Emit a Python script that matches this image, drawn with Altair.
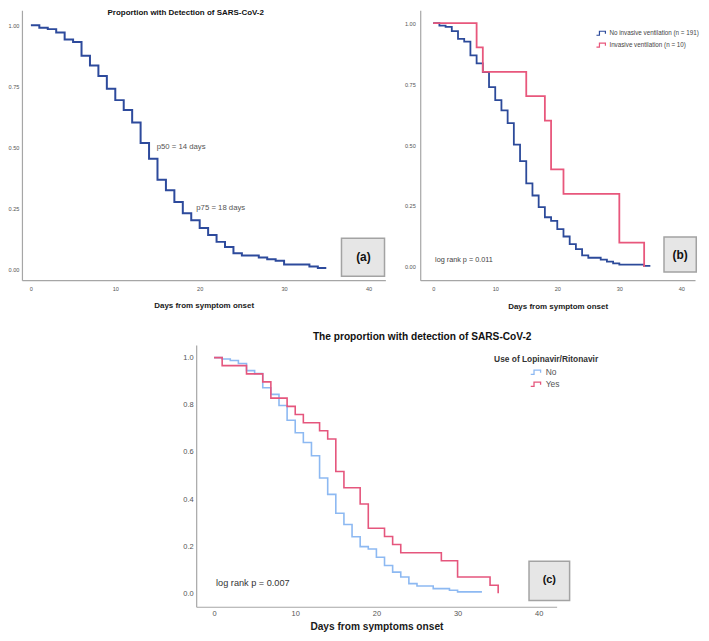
import altair as alt
import pandas as pd

NARROW = "Liberation Sans, Arial, sans-serif"
REG = "Liberation Sans, Arial, sans-serif"

# ---------------- data ----------------
# Panel (a): overall proportion with detection
a_days = [0, 1, 2, 3, 4, 5, 6, 7, 8, 9, 10, 11, 12, 13, 14, 15, 16, 17, 18, 19, 20,
          21, 22, 23, 24, 25, 27, 28, 29, 30, 33, 34, 35]
a_surv = [1.0, 0.990, 0.984, 0.970, 0.941, 0.931, 0.875, 0.835, 0.792, 0.740, 0.693,
          0.653, 0.601, 0.517, 0.453, 0.367, 0.324, 0.275, 0.229, 0.201, 0.169, 0.140,
          0.112, 0.091, 0.065, 0.056, 0.048, 0.041, 0.035, 0.019, 0.011, 0.005, 0.005]
a_title = "Proportion with Detection of SARS-CoV-2"
a_notes = ["p50  = 14 days", "p75  = 18 days"]

# Panel (b): by invasive ventilation
b_groups = ["No invasive ventilation (n  = 191)", "Invasive ventilation (n  = 10)"]
b_no_days = [0, 1, 2, 3, 4, 5, 6, 7, 8, 9, 10, 11, 12, 13, 14, 15, 16, 17, 18, 19, 20,
             21, 22, 23, 24, 25, 27, 28, 29, 30, 34, 35]
b_no_surv = [1.0, 0.989, 0.984, 0.967, 0.935, 0.924, 0.867, 0.835, 0.799, 0.737, 0.684,
             0.642, 0.590, 0.502, 0.434, 0.343, 0.293, 0.245, 0.204, 0.189, 0.155, 0.125,
             0.094, 0.073, 0.048, 0.038, 0.030, 0.022, 0.015, 0.010, 0.005, 0.005]
b_yes_days = [0, 7, 8, 15, 18, 19, 21, 30, 34]
b_yes_surv = [1.0, 0.9, 0.8, 0.7, 0.6, 0.4, 0.3, 0.1, 0.0]
b_note = "log rank p = 0.011"

# Panel (c): by Lopinavir/Ritonavir use
c_groups = ["No", "Yes"]
c_no_days = [0, 1, 2, 3, 4, 5, 6, 7, 8, 9, 10, 11, 12, 13, 14, 15, 16, 17, 18, 19, 20,
             21, 22, 23, 24, 25, 27, 29, 30, 33]
c_no_surv = [1.0, 0.994, 0.988, 0.975, 0.945, 0.932, 0.872, 0.844, 0.797, 0.734, 0.681,
             0.640, 0.584, 0.489, 0.420, 0.340, 0.292, 0.240, 0.198, 0.188, 0.153, 0.118,
             0.090, 0.069, 0.041, 0.031, 0.020, 0.013, 0.006, 0.006]
c_yes_days = [0, 1, 4, 6, 7, 9, 10, 11, 13, 14, 15, 16, 18, 19, 21, 22, 23, 28, 30, 34, 35]
c_yes_surv = [1.0, 0.966, 0.931, 0.897, 0.828, 0.793, 0.759, 0.724, 0.690, 0.655, 0.517,
              0.448, 0.379, 0.276, 0.241, 0.207, 0.172, 0.138, 0.069, 0.034, 0.0]
c_title = "The proportion with detection of SARS-CoV-2"
c_legend_title = "Use of Lopinavir/Ritonavir"
c_note = "log rank p = 0.007"

x_ticks = [0, 10, 20, 30, 40]
y_ticks_ab = [0, 0.25, 0.5, 0.75, 1.0]
y_ticks_c = [0, 0.2, 0.4, 0.6, 0.8, 1.0]
panel_labels = ["(a)", "(b)", "(c)"]

STEP = "M-1,0.4H-0.4V-0.4H0.8V0.1"
AXC = "#A6A6A6"


def axes(font, lsize, tsize, title, yvals, yfmt, lpad_x, tpad, lpad_y):
    ax = alt.Axis(values=x_ticks, format="d", title=title, titleFont=font,
                  titleFontSize=tsize, titleFontWeight="bold", titleColor="#1a1a1a",
                  titlePadding=tpad, labelFont=font, labelFontSize=lsize,
                  labelColor="#555555", labelPadding=lpad_x, ticks=False, grid=False,
                  domainColor=AXC, domainWidth=1.2)
    ay = alt.Axis(values=yvals, format=yfmt, title=None, labelFont=font,
                  labelFontSize=lsize, labelColor="#555555", labelPadding=lpad_y,
                  ticks=False, grid=False, domainColor=AXC, domainWidth=1.2)
    return ax, ay


def enc_x(xs, ax, **kw):
    return alt.X(type="quantitative", scale=xs, axis=ax, **kw)


def enc_y(ys, ay, **kw):
    return alt.Y(type="quantitative", scale=ys, axis=ay, **kw)


def note(txt, x, y, xs, ys, ax, ay, **mk):
    return alt.Chart(pd.DataFrame({"t": [txt]})).mark_text(**mk).encode(
        x=enc_x(xs, ax, datum=x), y=enc_y(ys, ay, datum=y), text="t:N")


def box(lbl, x1, x2, y1, y2, tx, ty, xs, ys, ax, ay, fsize):
    base = alt.Chart(pd.DataFrame({"t": [lbl]}))
    r = base.mark_rect(fill="#E6E6E6", stroke="#A3A3A3", strokeWidth=1.5).encode(
        x=enc_x(xs, ax, datum=x1), x2=alt.datum(x2),
        y=enc_y(ys, ay, datum=y1), y2=alt.datum(y2))
    t = base.mark_text(font=REG, fontSize=fsize, fontWeight="bold", color="#111111").encode(
        x=enc_x(xs, ax, datum=tx), y=enc_y(ys, ay, datum=ty), text="t:N")
    return r + t


# ---------------- panel (a) ----------------
xs_a = alt.Scale(domain=[-1.06, 42], nice=False, zero=False)
ys_a = alt.Scale(domain=[-0.045, 1.061], nice=False, zero=False)
ax_a, ay_a = axes(NARROW, 5.6, 8, "Days from symptom onset", y_ticks_ab, ".2f", 6, 10, 3)
df_a = pd.DataFrame({"day": a_days, "surv": a_surv})
line_a = alt.Chart(df_a).mark_line(interpolate="step-after", strokeWidth=2, color="#2D4A9C").encode(
    x=enc_x(xs_a, ax_a, field="day"), y=enc_y(ys_a, ay_a, field="surv"))
pa = alt.layer(
    line_a,
    note(a_notes[0], 14.9, 0.502, xs_a, ys_a, ax_a, ay_a, align="left", font=NARROW, fontSize=7.8, color="#555555"),
    note(a_notes[1], 19.6, 0.249, xs_a, ys_a, ax_a, ay_a, align="left", font=NARROW, fontSize=7.8, color="#555555"),
    box(panel_labels[0], 36.8, 41.9, 0.127, -0.029, 39.4, 0.049, xs_a, ys_a, ax_a, ay_a, 12),
).properties(width=365, height=271,
             title=alt.Title(a_title, font=NARROW, fontSize=8, fontWeight="bold",
                             color="#111111", anchor="middle", dx=-18, offset=-7))

# ---------------- panel (b) ----------------
xs_b = alt.Scale(domain=[-2.09, 42.2], nice=False, zero=False)
ys_b = alt.Scale(domain=[-0.054, 1.052], nice=False, zero=False)
ax_b, ay_b = axes(NARROW, 5.6, 8, "Days from symptom onset", y_ticks_ab, ".2f", 6, 11, 5)
df_b = pd.concat([
    pd.DataFrame({"day": b_no_days, "surv": b_no_surv, "grp": b_groups[0]}),
    pd.DataFrame({"day": b_yes_days, "surv": b_yes_surv, "grp": b_groups[1]}),
])
line_b = alt.Chart(df_b).mark_line(interpolate="step-after", strokeWidth=1.8).encode(
    x=enc_x(xs_b, ax_b, field="day"), y=enc_y(ys_b, ay_b, field="surv"),
    color=alt.Color("grp:N", scale=alt.Scale(domain=b_groups, range=["#2C4A9A", "#E8577C"]),
                    legend=alt.Legend(title=None, orient="none", legendX=176, legendY=17,
                                      symbolType=STEP, symbolSize=100, symbolStrokeWidth=1.2,
                                      symbolFillColor="transparent", labelFont=NARROW,
                                      labelFontSize=6.3, labelColor="#444444", labelOffset=2,
                                      rowPadding=1, padding=0, labelLimit=400)))
pb = alt.layer(
    line_b,
    note(b_note, 0.3, 0.029, xs_b, ys_b, ax_b, ay_b, align="left", font=NARROW, fontSize=7.3, color="#444444"),
    box(panel_labels[1], 37.2, 42.4, 0.123, -0.02, 39.8, 0.049, xs_b, ys_b, ax_b, ay_b, 12),
).properties(width=276, height=271)

# ---------------- panel (c) ----------------
xs_c = alt.Scale(domain=[-2.2, 42.2], nice=False, zero=False)
ys_c = alt.Scale(domain=[-0.057, 1.054], nice=False, zero=False)
ax_c, ay_c = axes(REG, 7.5, 10.2, "Days from symptoms onset", y_ticks_c, ".1f", 3, 4, 3)
df_c = pd.concat([
    pd.DataFrame({"day": c_no_days, "surv": c_no_surv, "grp": c_groups[0]}),
    pd.DataFrame({"day": c_yes_days, "surv": c_yes_surv, "grp": c_groups[1]}),
])
line_c = alt.Chart(df_c).mark_line(interpolate="step-after", strokeWidth=1.6).encode(
    x=enc_x(xs_c, ax_c, field="day"), y=enc_y(ys_c, ay_c, field="surv"),
    color=alt.Color("grp:N", scale=alt.Scale(domain=c_groups, range=["#8DB9F2", "#E5567D"]),
                    legend=alt.Legend(title=None, orient="none", legendX=335, legendY=21,
                                      symbolType=STEP, symbolSize=121, symbolStrokeWidth=1.3,
                                      symbolFillColor="transparent", labelFont=REG,
                                      labelFontSize=8.5, labelColor="#555555", labelOffset=3,
                                      rowPadding=0, padding=0)))
pc = alt.layer(
    line_c,
    note(c_legend_title, 34.5, 0.995, xs_c, ys_c, ax_c, ay_c, align="left", font=REG,
         fontSize=8.4, fontWeight="bold", color="#333333"),
    note(c_note, 0.25, 0.042, xs_c, ys_c, ax_c, ay_c, align="left", font=REG, fontSize=9.2, color="#333333"),
    box(panel_labels[2], 38.8, 43.8, 0.136, -0.03, 41.3, 0.055, xs_c, ys_c, ax_c, ay_c, 11),
).properties(width=362, height=263,
             title=alt.Title(c_title, font=REG, fontSize=10.2, fontWeight="bold",
                             color="#111111", anchor="middle", dx=46, offset=3))

spacer = alt.Chart(pd.DataFrame({"v": [0]})).mark_point(opacity=0).properties(width=140, height=10)

row1 = alt.hconcat(pa, pb, spacing=35, bounds="flush").resolve_scale(color="independent")
row2 = alt.hconcat(spacer, pc, spacing=35, bounds="flush").resolve_scale(color="independent")

chart = alt.vconcat(row1, row2, spacing=20, bounds="full").resolve_scale(
    color="independent"
).properties(
    padding={"left": 0, "top": 0, "right": 0, "bottom": 0}
).configure_view(stroke=None)

chart.save("out.html", embed_options={"renderer": "svg", "actions": False})
